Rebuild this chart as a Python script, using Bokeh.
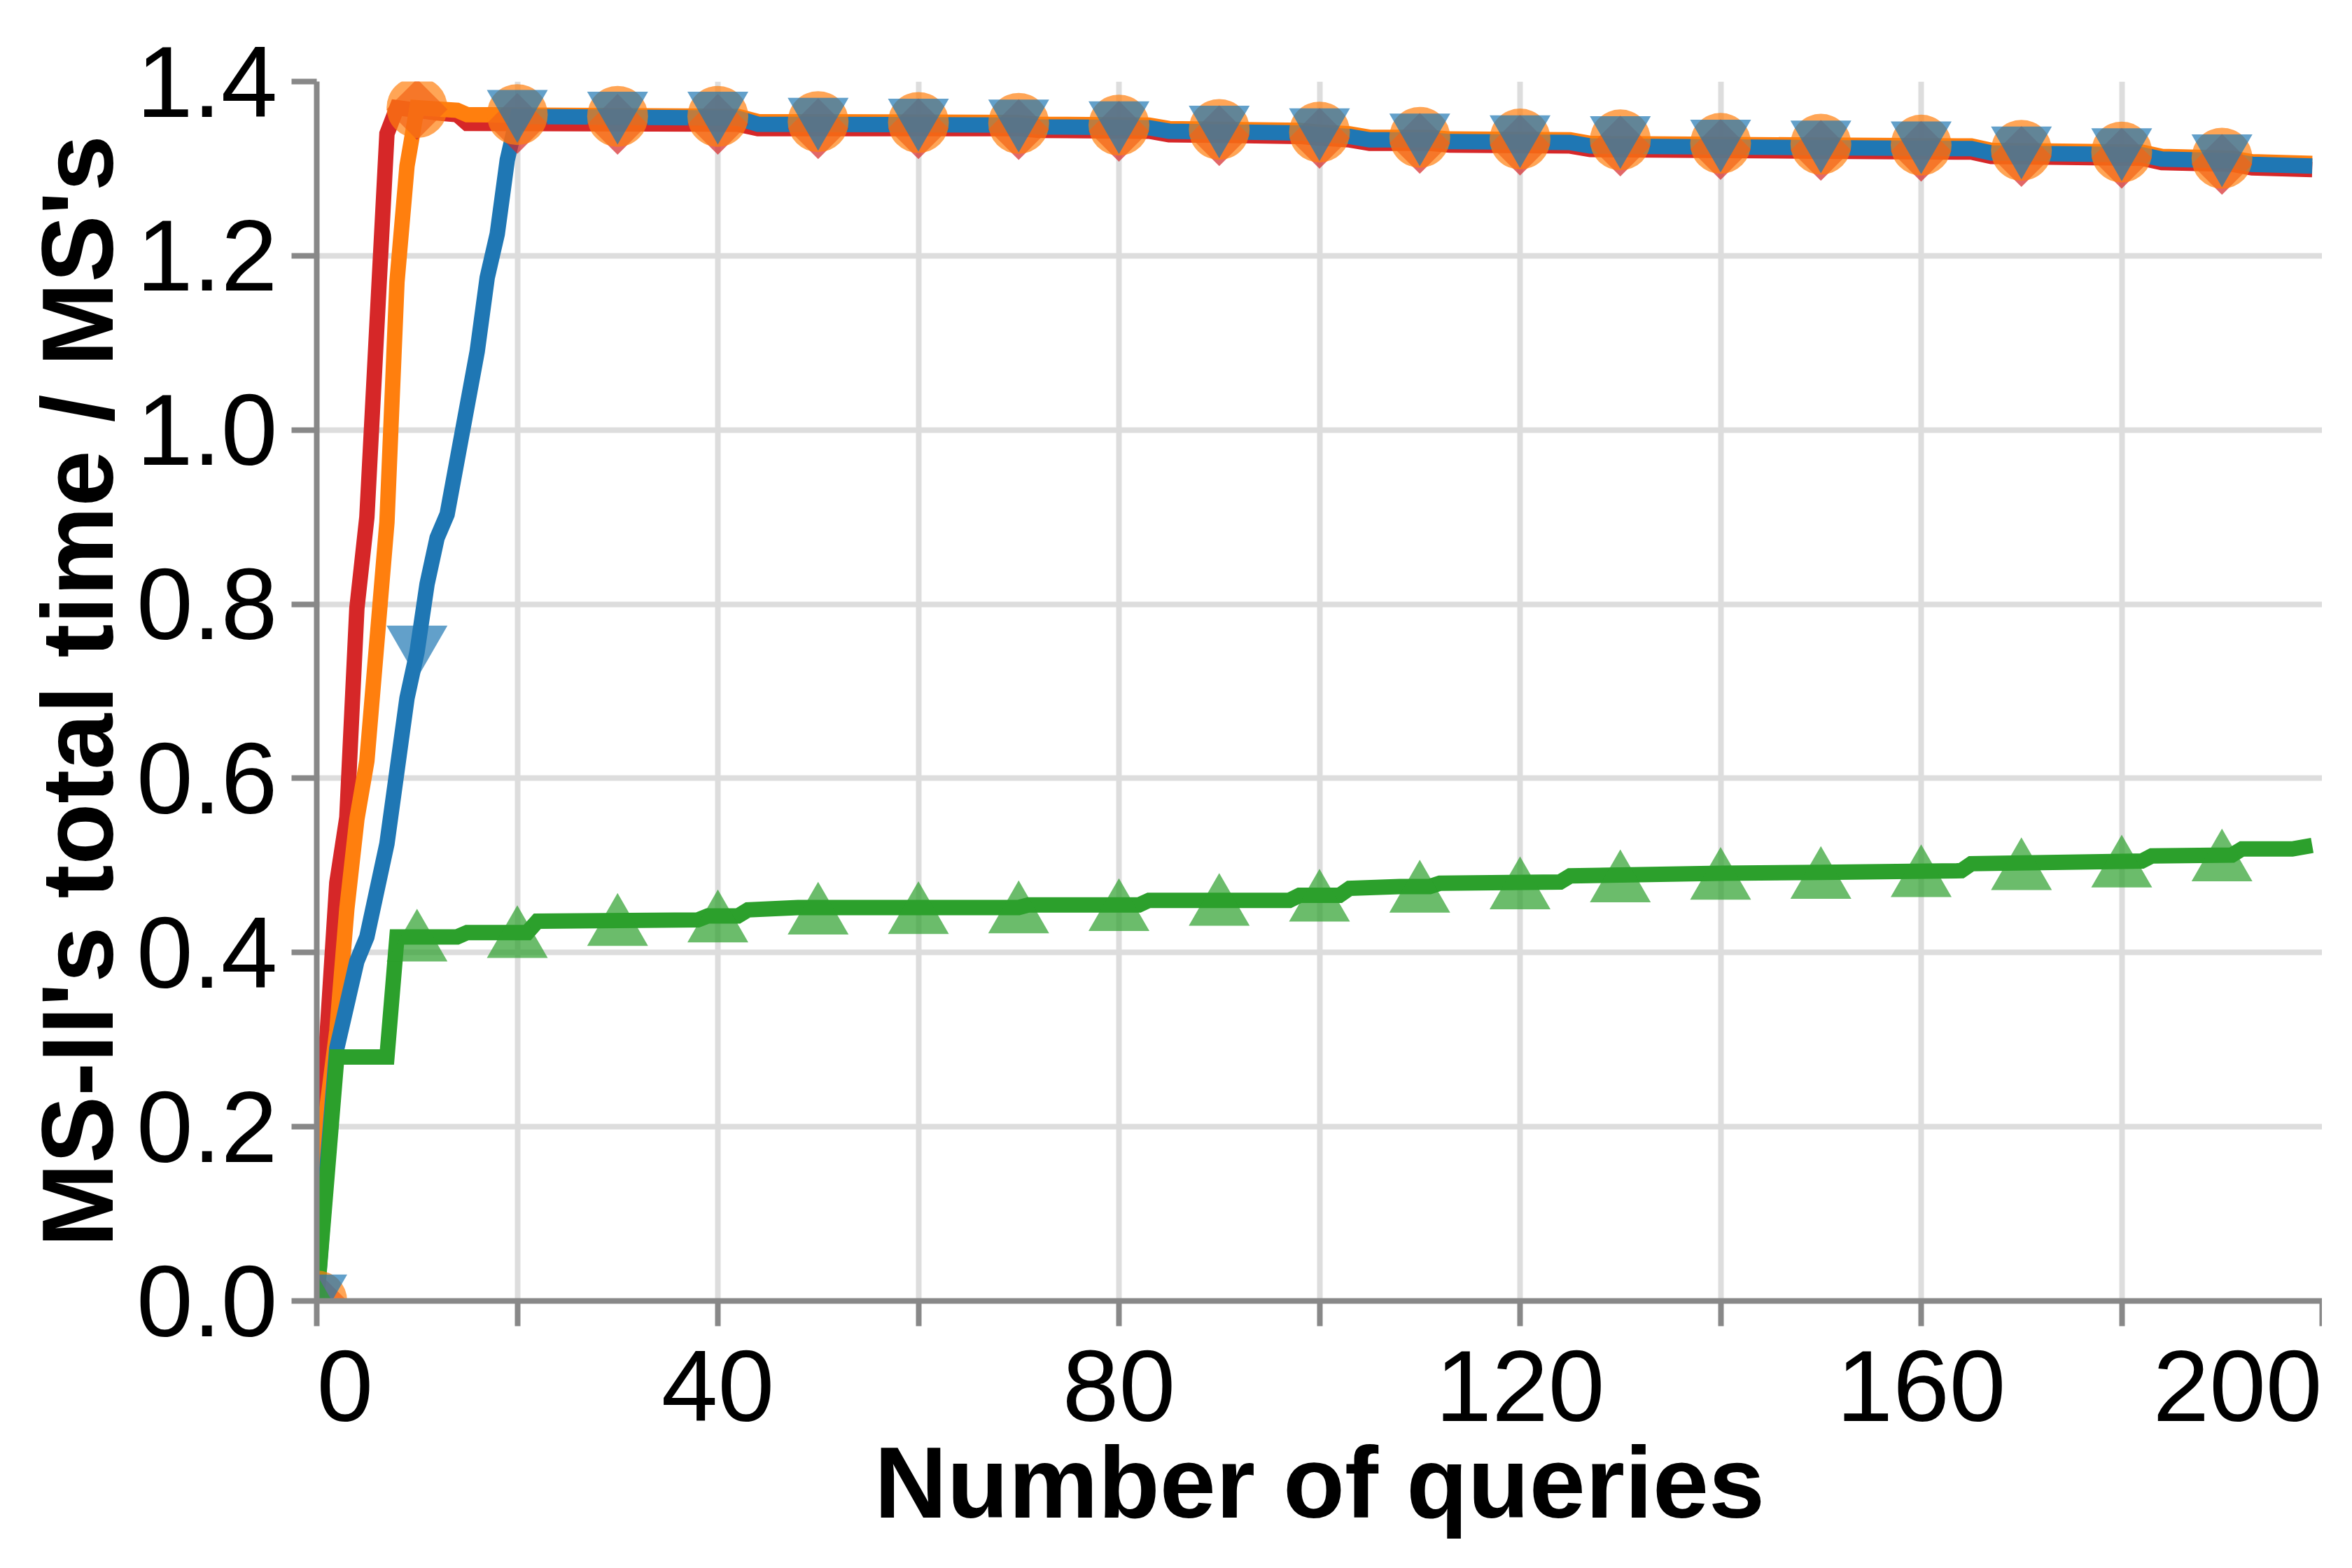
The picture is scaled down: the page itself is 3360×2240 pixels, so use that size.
import math
from bokeh.plotting import figure
from bokeh.models import Range1d, FixedTicker, PrintfTickFormatter, ColumnDataSource
from bokeh.transform import dodge
from bokeh.embed import file_html
from bokeh.resources import INLINE

# ---- data (vertices of each line) ----
red_x = [0, 1, 2, 3, 4, 5, 7, 8, 12, 14, 15, 42, 44, 70, 72, 83, 85, 98, 100, 103, 105, 111, 113,
         125, 127, 150, 165, 167, 182, 184, 191, 193, 199]
red_y = [0, 0.30, 0.48, 0.555, 0.795, 0.90, 1.34, 1.370, 1.364, 1.362, 1.352, 1.351, 1.346, 1.346,
         1.344, 1.343, 1.339, 1.337, 1.335, 1.333, 1.329, 1.329, 1.327, 1.326, 1.322, 1.320, 1.319,
         1.314, 1.312, 1.307, 1.305, 1.301, 1.299]

orange_x = [0, 1, 2, 3, 4, 5, 7, 8, 9, 10, 14, 15, 42, 44, 70, 72, 83, 85, 98, 100, 103, 105, 111,
            113, 125, 127, 150, 165, 167, 182, 184, 191, 193, 199]
orange_y = [0, 0.22, 0.31, 0.45, 0.553, 0.62, 0.894, 1.17, 1.303, 1.370, 1.367, 1.362, 1.360, 1.354,
            1.353, 1.351, 1.350, 1.346, 1.344, 1.342, 1.340, 1.336, 1.336, 1.334, 1.333, 1.329,
            1.327, 1.326, 1.321, 1.319, 1.314, 1.312, 1.308, 1.306]

blue_x = [0, 1, 2, 4, 5, 7, 9, 10, 11, 12, 13, 16, 17, 18, 19, 20, 42, 44, 70, 72, 83, 85, 98, 100,
          103, 105, 111, 113, 125, 127, 150, 165, 167, 182, 184, 191, 193, 199]
blue_y = [0, 0.15, 0.29, 0.39, 0.418, 0.525, 0.692, 0.745, 0.823, 0.876, 0.903, 1.09, 1.175, 1.225,
          1.31, 1.360, 1.358, 1.351, 1.350, 1.348, 1.347, 1.343, 1.341, 1.339, 1.337, 1.333, 1.333,
          1.331, 1.330, 1.326, 1.324, 1.323, 1.318, 1.316, 1.311, 1.309, 1.305, 1.303]

green_x = [0, 2, 7, 8, 14, 15, 21, 22, 38, 39, 42, 43, 48, 70, 71, 82, 83, 97, 98, 102, 103, 108,
           111, 112, 124, 125, 140, 150, 164, 165, 182, 183, 191, 192, 197, 199]
green_y = [0, 0.28, 0.28, 0.418, 0.418, 0.423, 0.423, 0.436, 0.4375, 0.442, 0.442, 0.449, 0.4517,
           0.4517, 0.4547, 0.4547, 0.46, 0.46, 0.4657, 0.4657, 0.4737, 0.4758, 0.4758, 0.4796,
           0.481, 0.488, 0.491, 0.492, 0.494, 0.502, 0.505, 0.511, 0.512, 0.519, 0.519, 0.523]

# marker points (every 10 queries)
marker_x = [0, 10, 20, 30, 40, 50, 60, 70, 80, 90, 100, 110, 120, 130, 140, 150, 160, 170, 180, 190]
red_m = [0, 1.368, 1.352, 1.351, 1.351, 1.346, 1.346, 1.345, 1.343, 1.338, 1.335, 1.329, 1.327,
         1.326, 1.322, 1.321, 1.320, 1.314, 1.312, 1.305]
orange_m = [0, 1.370, 1.362, 1.360, 1.360, 1.354, 1.353, 1.352, 1.350, 1.345, 1.342, 1.336, 1.334,
            1.333, 1.329, 1.328, 1.327, 1.321, 1.319, 1.312]
blue_m = [0, 0.745, 1.360, 1.358, 1.358, 1.351, 1.350, 1.349, 1.347, 1.342, 1.339, 1.333, 1.331,
          1.330, 1.326, 1.325, 1.324, 1.318, 1.316, 1.309]
green_m = [0, 0.420, 0.424, 0.438, 0.442, 0.451, 0.4516, 0.4525, 0.455, 0.461, 0.4658, 0.4762,
           0.480, 0.488, 0.491, 0.492, 0.494, 0.502, 0.505, 0.512]

x_ticks = [0, 20, 40, 60, 80, 100, 120, 140, 160, 180, 200]
x_tick_labels = {0: "\u00a0\u00a00", 20: "", 40: "40", 60: "", 80: "80", 100: "", 120: "120",
                 140: "", 160: "160", 180: "", 200: "200"}
y_ticks = [0, 0.2, 0.4, 0.6, 0.8, 1.0, 1.2, 1.4]

RED, ORANGE, BLUE, GREEN = "#d62728", "#ff7f0e", "#1f77b4", "#2ca02c"
FONT = "Liberation Sans"

ML, MR, MT, MB = 452, 0, 116, 374
FW, FH = 2865, 1742
W, H = ML + FW + MR, MT + FH + MB

p = figure(width=W, height=H, output_backend="svg", toolbar_location=None,
           x_range=Range1d(0, 200), y_range=Range1d(0, 1.4),
           min_border_left=ML, min_border_right=MR, min_border_top=MT, min_border_bottom=MB)
p.outline_line_color = None
p.background_fill_color = "white"
p.border_fill_color = "white"

for xs, ys, c in [(red_x, red_y, RED), (orange_x, orange_y, ORANGE),
                  (blue_x, blue_y, BLUE), (green_x, green_y, GREEN)]:
    p.line(xs, ys, line_color=c, line_width=22, line_join="miter")

msize = 87
px_per_unit = FH / 1.4
shift = (msize * math.sqrt(3) / 2) / 6 / px_per_unit

src = ColumnDataSource(dict(x=marker_x, red=red_m, orange=orange_m, blue=blue_m, green=green_m))
p.scatter("x", "red", source=src, marker="square", angle=math.pi / 4, size=msize / math.sqrt(2),
          fill_color=RED, fill_alpha=0.7, line_color=None)
p.scatter("x", "orange", source=src, marker="circle", size=msize,
          fill_color=ORANGE, fill_alpha=0.7, line_color=None)
p.scatter("x", dodge("blue", shift, range=p.y_range), source=src, marker="inverted_triangle",
          size=msize, fill_color=BLUE, fill_alpha=0.7, line_color=None)
p.scatter("x", dodge("green", -shift, range=p.y_range), source=src, marker="triangle",
          size=msize, fill_color=GREEN, fill_alpha=0.7, line_color=None)

for g in (p.xgrid, p.ygrid):
    g.grid_line_color = "#dddddd"
    g.grid_line_width = 8

p.xaxis.ticker = FixedTicker(ticks=x_ticks)
p.xaxis.major_label_overrides = x_tick_labels
p.yaxis.ticker = FixedTicker(ticks=y_ticks)
p.yaxis.formatter = PrintfTickFormatter(format="%.1f")

for ax in (p.xaxis, p.yaxis):
    ax.axis_line_color = "#888888"
    ax.axis_line_width = 8
    ax.major_tick_line_color = "#888888"
    ax.major_tick_line_width = 8
    ax.major_tick_out = 36
    ax.major_tick_in = 0
    ax.minor_tick_line_color = None
    ax.major_label_text_font = FONT
    ax.major_label_text_font_size = "145px"
    ax.major_label_text_color = "black"
    ax.axis_label_text_font = FONT
    ax.axis_label_text_font_size = "144px"
    ax.axis_label_text_font_style = "bold"
    ax.axis_label_text_color = "black"

p.xaxis.axis_label = "Number of queries"
p.yaxis.axis_label = "MS-II's total time / MS's"
p.xaxis.major_label_standoff = 4
p.yaxis.major_label_standoff = 20
p.xaxis.axis_label_standoff = -26
p.yaxis.axis_label_standoff = 0

open("out.html", "w").write(file_html(p, INLINE))
